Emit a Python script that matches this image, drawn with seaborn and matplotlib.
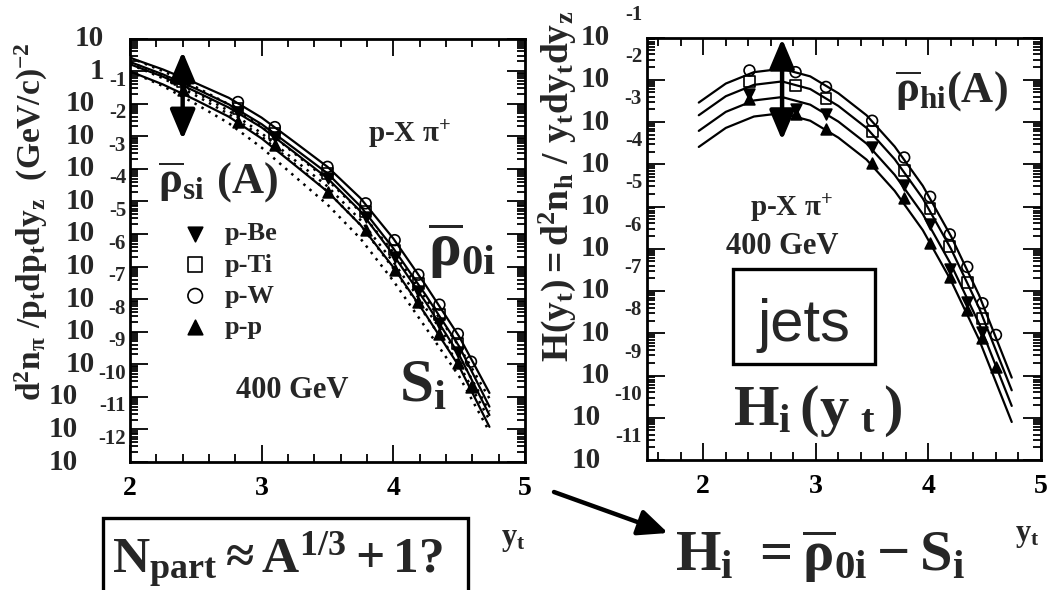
import numpy as np
import pandas as pd
import matplotlib
matplotlib.use("Agg")
import matplotlib.pyplot as plt
import matplotlib.transforms as mtransforms
from matplotlib.patches import Rectangle, FancyArrowPatch
from matplotlib.ticker import LogLocator, MultipleLocator, NullFormatter
import seaborn as sns

# ---------------- data (log10 of the yields) ----------------
targets = ["p-Be", "p-Ti", "p-W", "p-p"]
target_markers = ["v", "s", "o", "^"]
target_filled = [True, False, False, True]

# pi+ spectra  d2n/pt dpt dyz  vs  y_t
spec_yt = [2.40, 2.82, 3.10, 3.50, 3.79, 4.01, 4.19, 4.35, 4.49, 4.59]
spec_be = [-0.40, -1.26, -2.02, -3.29, -4.47, -5.70, -6.75, -7.74, -8.62, np.nan]
spec_ti = [-0.32, -1.15, -1.92, -3.14, -4.32, -5.49, -6.53, -7.47, -8.36, np.nan]
spec_w = [-0.20, -0.95, -1.72, -2.94, -4.06, -5.19, -6.25, -7.17, -8.07, -8.92]
spec_pp = [-0.59, -1.56, -2.28, -3.70, -4.88, -6.11, -7.08, -8.07, -8.95, -9.69]

# two-component model rho_0i (solid) and soft component S_i (dotted)
fit_yt = [2.0, 2.25, 2.5, 2.75, 3.0, 3.25, 3.5, 3.75, 4.0, 4.25, 4.5, 4.73]
rho0_w = [0.41, 0.05, -0.37, -0.82, -1.43, -2.18, -2.94, -3.90, -5.14, -6.60, -8.15, -9.88]
rho0_ti = [0.28, -0.10, -0.54, -1.02, -1.63, -2.38, -3.14, -4.15, -5.44, -6.90, -8.45, -10.30]
rho0_be = [0.21, -0.17, -0.63, -1.12, -1.73, -2.50, -3.29, -4.30, -5.64, -7.12, -8.71, -10.56]
rho0_pp = [-0.01, -0.41, -0.89, -1.40, -2.07, -2.88, -3.70, -4.72, -6.02, -7.50, -9.07, -10.92]
soft_w = [0.41, 0.00, -0.49, -1.02, -1.71, -2.53, -3.34, -4.32, -5.56, -7.00, -8.45, -10.05]
soft_ti = [0.28, -0.15, -0.66, -1.22, -1.91, -2.73, -3.54, -4.57, -5.86, -7.30, -8.75, -10.45]
soft_be = [0.21, -0.22, -0.75, -1.32, -2.01, -2.85, -3.69, -4.72, -6.06, -7.52, -9.01, -10.71]
soft_pp = [-0.01, -0.46, -1.01, -1.60, -2.35, -3.23, -4.10, -5.14, -6.44, -7.90, -9.37, -11.07]

# hard component H(y_t) data and curves
hard_yt = [2.41, 2.82, 3.09, 3.50, 3.785, 4.015, 4.19, 4.345, 4.48, 4.60]
hard_be = [-2.34, -2.69, -2.80, -3.58, -4.49, -5.41, -6.48, -7.25, -7.96, np.nan]
hard_ti = [-2.05, -2.13, -2.45, -3.23, -4.15, -5.04, -5.94, -6.80, -7.65, np.nan]
hard_w = [-1.78, -1.82, -2.17, -2.97, -3.84, -4.77, -5.66, -6.43, -7.29, -8.04]
hard_pp = [-2.45, -2.80, -3.16, -3.98, -4.81, -5.87, -6.68, -7.45, -8.12, -8.79]

hfit_yt = [1.96, 2.2, 2.45, 2.7, 2.95, 3.2, 3.45, 3.7, 3.95, 4.2, 4.45, 4.74]
hfit_w = [-2.54, -2.09, -1.82, -1.74, -1.92, -2.32, -2.84, -3.58, -4.51, -5.70, -7.10, -9.05]
hfit_ti = [-2.84, -2.39, -2.12, -2.04, -2.22, -2.62, -3.14, -3.88, -4.81, -6.00, -7.40, -9.35]
hfit_be = [-3.21, -2.76, -2.49, -2.41, -2.59, -2.99, -3.51, -4.25, -5.18, -6.37, -7.77, -9.72]
hfit_pp = [-3.59, -3.14, -2.87, -2.79, -2.97, -3.37, -3.89, -4.63, -5.56, -6.75, -8.15, -10.10]

left_decades = list(range(1, -13, -1))
right_decades = list(range(-1, -12, -1))

# ---------------- style ----------------
sns.set_theme(style="ticks")
plt.rcParams["font.family"] = ["Liberation Serif", "DejaVu Serif"]
plt.rcParams["font.weight"] = "bold"
plt.rcParams["mathtext.fontset"] = "custom"
plt.rcParams["mathtext.rm"] = "Liberation Serif:bold"
plt.rcParams["mathtext.it"] = "Liberation Serif:bold"
plt.rcParams["mathtext.bf"] = "Liberation Serif:bold"
plt.rcParams["mathtext.default"] = "rm"

W, H = 1050, 590
fig = plt.figure(figsize=(W / 100, H / 100), dpi=100)
fig.patch.set_facecolor("white")

axL = fig.add_axes([130 / W, 1 - 462 / H, 395 / W, 423.5 / H])
axR = fig.add_axes([647 / W, 1 - 460 / H, 394 / W, 422.5 / H])


def ftext(px, py, s, **kw):
    return fig.text(px / W, 1 - py / H, s, **kw)


def style_axes(ax, xlim, ylim):
    ax.set_yscale("log")
    ax.set_xlim(*xlim)
    ax.set_ylim(*ylim)
    ax.set_facecolor("white")
    for sp in ax.spines.values():
        sp.set_linewidth(2.0)
        sp.set_color("black")
        sp.set_visible(True)
    ax.xaxis.set_major_locator(MultipleLocator(1))
    ax.xaxis.set_minor_locator(MultipleLocator(0.2))
    ax.yaxis.set_major_locator(LogLocator(base=10, numticks=40))
    ax.yaxis.set_minor_locator(LogLocator(base=10, subs=np.arange(2, 10), numticks=40))
    ax.yaxis.set_major_formatter(NullFormatter())
    ax.yaxis.set_minor_formatter(NullFormatter())
    ax.tick_params(axis="both", which="both", direction="in", top=True, right=True,
                   colors="black", width=1.3)
    ax.tick_params(axis="x", which="major", length=12, pad=10, labelsize=20)
    ax.tick_params(axis="x", which="minor", length=6)
    ax.tick_params(axis="y", which="major", length=13)
    ax.tick_params(axis="y", which="minor", length=6)
    for lab in ax.get_xticklabels():
        lab.set_fontweight("bold")
    ax.set_xlabel("")
    ax.set_ylabel("")
    ax.grid(False)


def log_tick_labels(ax, decades, plain_dx, ten_dx2, ten_dx3, exp_dx):
    base = mtransforms.blended_transform_factory(ax.transAxes, ax.transData)
    for e in decades:
        v = 10.0 ** e
        if e >= 0:
            t = mtransforms.offset_copy(base, fig=fig, x=-plain_dx, y=0, units="dots")
            ax.text(0, v, "1" if e == 0 else "10", transform=t, ha="right", va="center",
                    fontsize=21, fontweight="bold", clip_on=False)
        else:
            es = str(e)
            dx = ten_dx2 if len(es) == 2 else ten_dx3
            t = mtransforms.offset_copy(base, fig=fig, x=-dx, y=0, units="dots")
            ax.text(0, v, "10", transform=t, ha="right", va="center",
                    fontsize=21, fontweight="bold", clip_on=False)
            t2 = mtransforms.offset_copy(base, fig=fig, x=-exp_dx, y=23, units="dots")
            ax.text(0, v, es, transform=t2, ha="right", va="center",
                    fontsize=15, fontweight="bold", clip_on=False)


def draw_points(ax, xs, series, size=60):
    for name, vals, m, filled in zip(targets, series, target_markers, target_filled):
        sns.scatterplot(x=xs, y=10.0 ** np.asarray(vals, dtype=float), ax=ax, marker=m, s=size,
                        color="black", facecolor="black" if filled else "none",
                        edgecolor="black", linewidth=1.2, label=name, zorder=5)


def draw_curves(ax, xs, series, ls="-", lw=1.6):
    for vals in series:
        sns.lineplot(x=xs, y=10.0 ** np.asarray(vals, dtype=float), ax=ax, color="black",
                     linestyle=ls, linewidth=lw, sort=False, estimator=None, zorder=3)


# ---------------- left panel: pi+ spectra ----------------
draw_curves(axL, fit_yt, [soft_w, soft_ti, soft_be, soft_pp], ls=(0, (1, 2.2)), lw=1.8)
draw_curves(axL, fit_yt, [rho0_w, rho0_ti, rho0_be, rho0_pp])
draw_points(axL, spec_yt, [spec_be, spec_ti, spec_w, spec_pp])
style_axes(axL, (2, 5), (1e-12, 1e1))
log_tick_labels(axL, left_decades, plain_dx=26, ten_dx2=35, ten_dx3=52, exp_dx=4)

leg = axL.legend(loc="upper left", bbox_to_anchor=((182 - 130) / 395, (462 - 222) / 423.5),
                 frameon=False, fontsize=19, handletextpad=0.62, labelspacing=0.29,
                 borderaxespad=0, borderpad=0, handlelength=1.0, markerscale=1.35)

axL.annotate("", xy=(2.40, 10 ** 0.60), xytext=(2.40, 10 ** -2.10),
             arrowprops=dict(arrowstyle="<|-|>,head_length=0.9,head_width=0.38",
                             lw=3.2, color="black", shrinkA=0, shrinkB=0,
                             mutation_scale=20), zorder=6)

# ---------------- right panel: hard component ----------------
draw_curves(axR, hfit_yt, [hfit_w, hfit_ti, hfit_be, hfit_pp])
draw_points(axR, hard_yt, [hard_be, hard_ti, hard_w, hard_pp])
style_axes(axR, (1.5, 5), (1e-11, 1e-1))
log_tick_labels(axR, right_decades, plain_dx=37, ten_dx2=37, ten_dx3=46, exp_dx=5)
axR.get_legend().remove()

axR.annotate("", xy=(2.70, 10 ** -1.03), xytext=(2.70, 10 ** -3.43),
             arrowprops=dict(arrowstyle="<|-|>,head_length=0.9,head_width=0.38",
                             lw=3.2, color="black", shrinkA=0, shrinkB=0,
                             mutation_scale=20), zorder=6)

# ---------------- texts ----------------
ftext(31, 222, r"$d^{2}n_{\pi}\ /p_{t}dp_{t}dy_{z}\ \ (GeV/c)^{-2}$", rotation=90,
      ha="center", va="center", fontsize=24)
ftext(557, 186, r"$H(y_{t}) = d^{2}n_{h}\ /\ y_{t}dy_{t}dy_{z}$", rotation=90,
      ha="center", va="center", fontsize=27)

ftext(158, 193, r"$\overline{\rho}_{si}\ (A)$", ha="left", va="baseline", fontsize=32)
ftext(368, 142, r"p-X $\pi^{+}$", ha="left", va="baseline", fontsize=21)
ftext(428, 266, r"$\overline{\rho}_{0i}$", ha="left", va="baseline", fontsize=44)
ftext(399, 402, r"$S_{i}$", ha="left", va="baseline", fontsize=44)
ftext(236, 398, "400 GeV", ha="left", va="baseline", fontsize=22)
ftext(513, 540, r"$y_{t}$", ha="center", va="center", fontsize=22)

ftext(895, 102, r"$\overline{\rho}_{hi}(A)$", ha="left", va="baseline", fontsize=32)
ftext(750, 216, r"p-X $\pi^{+}$", ha="left", va="baseline", fontsize=21)
ftext(726, 254, "400 GeV", ha="left", va="baseline", fontsize=22)
ftext(804, 341, "jets", ha="center", va="baseline", fontsize=43,
      family=["Liberation Sans", "DejaVu Sans"], fontweight="normal")
ftext(733, 425, r"$H_{i}\,(y_{\ t}\,)$", ha="left", va="baseline", fontsize=42)
ftext(1027, 536, r"$y_{t}$", ha="center", va="center", fontsize=22)

ftext(675, 571, r"$H_{i}\ =\overline{\rho}_{0i}-S_{i}$", ha="left", va="baseline", fontsize=42)
ftext(112, 573, r"$N_{part}\approx A^{1/3}+1?$", ha="left", va="baseline", fontsize=37)

fig.add_artist(Rectangle((733 / W, 1 - 364 / H), (875 - 733) / W, (364 - 269) / H,
                         transform=fig.transFigure, fill=False, lw=2.4, ec="black"))
fig.add_artist(Rectangle((103 / W, 1 - 594 / H), (468 - 103) / W, (594 - 518) / H,
                         transform=fig.transFigure, fill=False, lw=2.4, ec="black",
                         clip_on=False))
fig.add_artist(FancyArrowPatch((554 / W, 1 - 492 / H), (668 / W, 1 - 533 / H),
                               transform=fig.transFigure,
                               arrowstyle="-|>,head_length=0.9,head_width=0.4",
                               mutation_scale=20, lw=3.2, color="black",
                               shrinkA=0, shrinkB=0))

fig.savefig("out.png", dpi=100, facecolor="white")
